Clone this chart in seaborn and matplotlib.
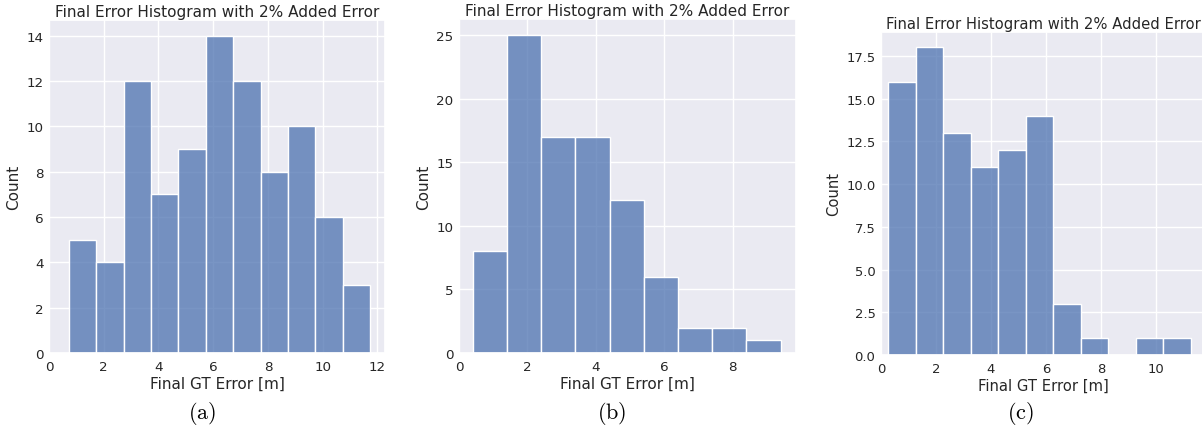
import matplotlib
matplotlib.use("Agg")
import numpy as np
import pandas as pd
import matplotlib.pyplot as plt
import seaborn as sns

# ===================================================
# DATA
# ===================================================
edges_a = [0.73, 1.73, 2.73, 3.73, 4.73, 5.73, 6.73, 7.73, 8.73, 9.73, 10.73, 11.73]
counts_a = [5, 4, 12, 7, 9, 14, 12, 8, 10, 6, 3]

edges_b = [0.40, 1.40, 2.40, 3.40, 4.40, 5.40, 6.40, 7.40, 8.40, 9.40]
counts_b = [8, 25, 17, 17, 12, 6, 2, 2, 1]

edges_c = [0.27, 1.27, 2.27, 3.27, 4.27, 5.27, 6.27, 7.27, 8.27, 9.27, 10.27, 11.27]
counts_c = [16, 18, 13, 11, 12, 14, 3, 1, 0, 1, 1]

panel_labels = ["(a)", "(b)", "(c)"]
TITLE = "Final Error Histogram with 2% Added Error"
XLABEL = "Final GT Error [m]"

# ===================================================
# SETTINGS
# ===================================================
sns.set_theme(style="darkgrid")
plt.rcParams["mathtext.fontset"] = "cm"
W, H = 1202, 431
fig = plt.figure(figsize=(W / 100, H / 100), dpi=100)

# axes boxes in pixels: left, top, right, bottom
boxes = [(49, 21, 385, 354), (459, 20, 796, 354), (881, 33, 1206, 356)]
scales = [1.0, 1.0, 0.97]   # third panel was shrunk a little in the source
label_x = [202, 612, 1020]


def px_axes(box):
    l, t, r, b = box
    return fig.add_axes([l / W, 1 - b / H, (r - l) / W, (b - t) / H])


def draw_hist(ax, edges, counts, s):
    edges = np.asarray(edges)
    df = pd.DataFrame({"err": (edges[:-1] + edges[1:]) / 2, "n": counts})
    sns.histplot(data=df, x="err", weights="n", bins=list(edges), ax=ax)
    ax.set_xlim(left=0)
    ax.set_title(TITLE, fontsize=11 * s, pad=3)
    ax.set_xlabel(XLABEL, fontsize=11 * s, labelpad=2)
    ax.set_ylabel("Count", fontsize=11 * s, labelpad=4)
    ax.tick_params(axis="y", labelsize=9.7 * s, length=0, pad=4)
    ax.tick_params(axis="x", labelsize=9.7 * s, length=0, pad=5)


data = [(edges_a, counts_a), (edges_b, counts_b), (edges_c, counts_c)]
for box, (e, c), s, lab, lx in zip(boxes, data, scales, panel_labels, label_x):
    ax = px_axes(box)
    draw_hist(ax, e, c, s)
    fig.text(lx / W, 1 - 414 / H, r"$\mathrm{" + lab + "}$", ha="center",
             va="center", fontsize=16, color="black")

fig.savefig("out.png", dpi=100, facecolor="white")
